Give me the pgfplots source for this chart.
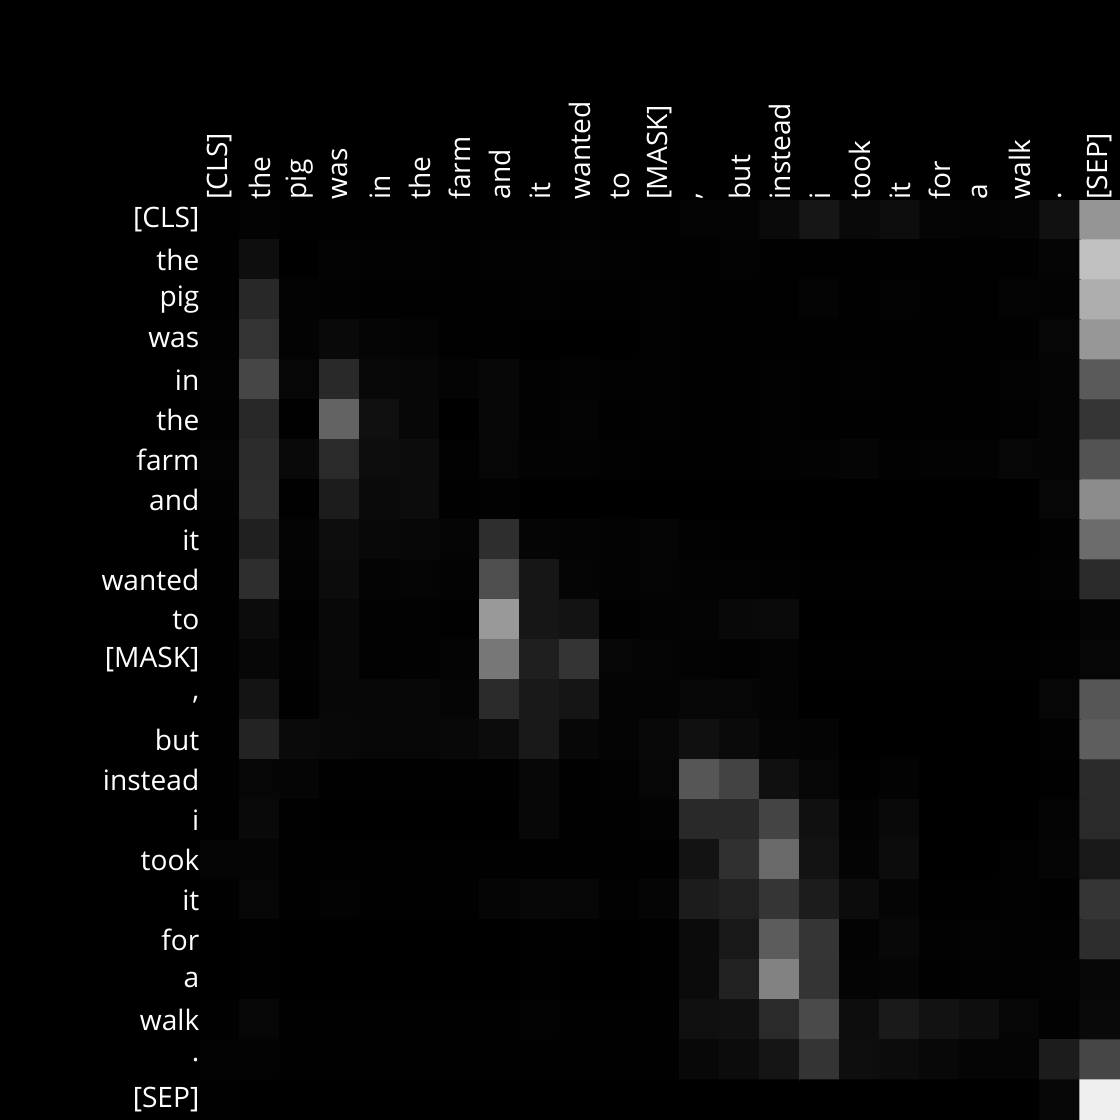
\documentclass[border=0pt]{standalone}
\usepackage{pgfplots}
\pgfplotsset{compat=1.18}
\usepackage{fontspec}
\setmainfont{Open Sans}

\begin{document}
\begin{tikzpicture}
\path[use as bounding box] (-2cm,0) rectangle (9.2cm,11.2cm);
\fill[black] (-2cm,0) rectangle (9.2cm,11.2cm);
\begin{axis}[
    at={(0,0)}, anchor=south west,
    scale only axis, width=9.2cm, height=9.2cm,
    xmin=-0.5, xmax=22.5, ymin=-0.5, ymax=22.5,
    y dir=reverse,
    axis line style={draw=none}, major tick length=0pt,
    colormap={bw}{gray(0cm)=(0); gray(1cm)=(1)},
    point meta min=0, point meta max=255,
    xtick={0,...,22}, ytick={0,...,22},
    xticklabel pos=top,
    xticklabels={{[CLS]},{the},{pig},{was},{in},{the},{farm},{and},{it},{wanted},{to},{[MASK]},{,},{but},{instead},{i},{took},{it},{for},{a},{walk},{.},{[SEP]}},
    yticklabels={{[CLS]},{the},{pig},{was},{in},{the},{farm},{and},{it},{wanted},{to},{[MASK]},{,},{but},{instead},{i},{took},{it},{for},{a},{walk},{.},{[SEP]}},
    xticklabel style={text=white, rotate=90, anchor=west, inner sep=0pt, font=\fontsize{8}{9.6}\selectfont},
    yticklabel style={text=white, anchor=east, inner sep=0pt, font=\fontsize{8}{9.6}\selectfont},
]
\addplot[matrix plot*, mesh/cols=23, point meta=explicit] coordinates {
(0,0)[1] (1,0)[3] (2,0)[1] (3,0)[1] (4,0)[1] (5,0)[1] (6,0)[1] (7,0)[1] (8,0)[1] (9,0)[2] (10,0)[1] (11,0)[1] (12,0)[4] (13,0)[4] (14,0)[10] (15,0)[22] (16,0)[9] (17,0)[13] (18,0)[5] (19,0)[4] (20,0)[5] (21,0)[17] (22,0)[148]
(0,1)[1] (1,1)[14] (2,1)[0] (3,1)[3] (4,1)[2] (5,1)[2] (6,1)[1] (7,1)[2] (8,1)[2] (9,1)[3] (10,1)[2] (11,1)[1] (12,1)[1] (13,1)[3] (14,1)[1] (15,1)[1] (16,1)[1] (17,1)[1] (18,1)[1] (19,1)[1] (20,1)[1] (21,1)[5] (22,1)[192]
(0,2)[1] (1,2)[40] (2,2)[3] (3,2)[2] (4,2)[1] (5,2)[1] (6,2)[1] (7,2)[1] (8,2)[2] (9,2)[1] (10,2)[1] (11,2)[2] (12,2)[1] (13,2)[1] (14,2)[1] (15,2)[4] (16,2)[1] (17,2)[3] (18,2)[1] (19,2)[1] (20,2)[4] (21,2)[3] (22,2)[173]
(0,3)[2] (1,3)[51] (2,3)[3] (3,3)[9] (4,3)[5] (5,3)[4] (6,3)[1] (7,3)[1] (8,3)[0] (9,3)[0] (10,3)[0] (11,3)[2] (12,3)[1] (13,3)[1] (14,3)[1] (15,3)[1] (16,3)[1] (17,3)[1] (18,3)[1] (19,3)[1] (20,3)[1] (21,3)[6] (22,3)[150]
(0,4)[3] (1,4)[70] (2,4)[6] (3,4)[41] (4,4)[8] (5,4)[7] (6,4)[4] (7,4)[7] (8,4)[2] (9,4)[3] (10,4)[2] (11,4)[2] (12,4)[1] (13,4)[1] (14,4)[2] (15,4)[1] (16,4)[2] (17,4)[1] (18,4)[1] (19,4)[1] (20,4)[3] (21,4)[5] (22,4)[89]
(0,5)[2] (1,5)[40] (2,5)[1] (3,5)[98] (4,5)[16] (5,5)[7] (6,5)[0] (7,5)[7] (8,5)[2] (9,5)[4] (10,5)[1] (11,5)[2] (12,5)[1] (13,5)[1] (14,5)[2] (15,5)[1] (16,5)[1] (17,5)[1] (18,5)[1] (19,5)[1] (20,5)[2] (21,5)[5] (22,5)[53]
(0,6)[4] (1,6)[44] (2,6)[9] (3,6)[42] (4,6)[13] (5,6)[12] (6,6)[2] (7,6)[6] (8,6)[3] (9,6)[3] (10,6)[2] (11,6)[1] (12,6)[1] (13,6)[1] (14,6)[2] (15,6)[3] (16,6)[5] (17,6)[2] (18,6)[3] (19,6)[3] (20,6)[6] (21,6)[5] (22,6)[82]
(0,7)[2] (1,7)[45] (2,7)[1] (3,7)[28] (4,7)[10] (5,7)[12] (6,7)[1] (7,7)[2] (8,7)[0] (9,7)[0] (10,7)[0] (11,7)[0] (12,7)[0] (13,7)[0] (14,7)[0] (15,7)[0] (16,7)[0] (17,7)[0] (18,7)[0] (19,7)[0] (20,7)[0] (21,7)[6] (22,7)[139]
(0,8)[1] (1,8)[32] (2,8)[4] (3,8)[13] (4,8)[8] (5,8)[7] (6,8)[5] (7,8)[46] (8,8)[5] (9,8)[4] (10,8)[3] (11,8)[5] (12,8)[2] (13,8)[1] (14,8)[1] (15,8)[0] (16,8)[0] (17,8)[0] (18,8)[0] (19,8)[0] (20,8)[0] (21,8)[2] (22,8)[107]
(0,9)[1] (1,9)[46] (2,9)[3] (3,9)[12] (4,9)[4] (5,9)[5] (6,9)[3] (7,9)[77] (8,9)[22] (9,9)[5] (10,9)[3] (11,9)[5] (12,9)[3] (13,9)[3] (14,9)[2] (15,9)[1] (16,9)[1] (17,9)[1] (18,9)[1] (19,9)[1] (20,9)[1] (21,9)[3] (22,9)[42]
(0,10)[1] (1,10)[12] (2,10)[1] (3,10)[8] (4,10)[2] (5,10)[2] (6,10)[1] (7,10)[152] (8,10)[22] (9,10)[19] (10,10)[1] (11,10)[3] (12,10)[4] (13,10)[8] (14,10)[10] (15,10)[0] (16,10)[0] (17,10)[0] (18,10)[0] (19,10)[0] (20,10)[0] (21,10)[1] (22,10)[5]
(0,11)[1] (1,11)[7] (2,11)[2] (3,11)[8] (4,11)[2] (5,11)[2] (6,11)[4] (7,11)[118] (8,11)[31] (9,11)[52] (10,11)[6] (11,11)[5] (12,11)[3] (13,11)[2] (14,11)[4] (15,11)[1] (16,11)[1] (17,11)[1] (18,11)[1] (19,11)[1] (20,11)[1] (21,11)[2] (22,11)[6]
(0,12)[1] (1,12)[20] (2,12)[1] (3,12)[7] (4,12)[6] (5,12)[7] (6,12)[5] (7,12)[43] (8,12)[25] (9,12)[21] (10,12)[4] (11,12)[4] (12,12)[6] (13,12)[6] (14,12)[4] (15,12)[0] (16,12)[0] (17,12)[0] (18,12)[0] (19,12)[0] (20,12)[0] (21,12)[6] (22,12)[85]
(0,13)[1] (1,13)[35] (2,13)[10] (3,13)[8] (4,13)[6] (5,13)[6] (6,13)[8] (7,13)[12] (8,13)[25] (9,13)[7] (10,13)[4] (11,13)[8] (12,13)[16] (13,13)[10] (14,13)[5] (15,13)[4] (16,13)[0] (17,13)[0] (18,13)[0] (19,13)[0] (20,13)[0] (21,13)[2] (22,13)[93]
(0,14)[1] (1,14)[6] (2,14)[5] (3,14)[1] (4,14)[1] (5,14)[1] (6,14)[1] (7,14)[1] (8,14)[7] (9,14)[1] (10,14)[2] (11,14)[6] (12,14)[85] (13,14)[67] (14,14)[16] (15,14)[6] (16,14)[1] (17,14)[3] (18,14)[0] (19,14)[0] (20,14)[0] (21,14)[1] (22,14)[43]
(0,15)[1] (1,15)[9] (2,15)[1] (3,15)[0] (4,15)[0] (5,15)[0] (6,15)[0] (7,15)[0] (8,15)[7] (9,15)[1] (10,15)[1] (11,15)[3] (12,15)[41] (13,15)[41] (14,15)[68] (15,15)[16] (16,15)[3] (17,15)[9] (18,15)[0] (19,15)[0] (20,15)[0] (21,15)[4] (22,15)[42]
(0,16)[5] (1,16)[5] (2,16)[1] (3,16)[1] (4,16)[1] (5,16)[1] (6,16)[1] (7,16)[1] (8,16)[1] (9,16)[1] (10,16)[1] (11,16)[1] (12,16)[19] (13,16)[48] (14,16)[104] (15,16)[19] (16,16)[4] (17,16)[12] (18,16)[0] (19,16)[0] (20,16)[2] (21,16)[5] (22,16)[24]
(0,17)[1] (1,17)[6] (2,17)[1] (3,17)[3] (4,17)[1] (5,17)[1] (6,17)[1] (7,17)[5] (8,17)[7] (9,17)[6] (10,17)[2] (11,17)[5] (12,17)[28] (13,17)[33] (14,17)[53] (15,17)[28] (16,17)[12] (17,17)[5] (18,17)[1] (19,17)[1] (20,17)[2] (21,17)[1] (22,17)[53]
(0,18)[0] (1,18)[1] (2,18)[0] (3,18)[0] (4,18)[0] (5,18)[0] (6,18)[0] (7,18)[0] (8,18)[1] (9,18)[1] (10,18)[0] (11,18)[1] (12,18)[11] (13,18)[24] (14,18)[91] (15,18)[53] (16,18)[3] (17,18)[8] (18,18)[2] (19,18)[3] (20,18)[2] (21,18)[2] (22,18)[45]
(0,19)[0] (1,19)[1] (2,19)[0] (3,19)[0] (4,19)[0] (5,19)[0] (6,19)[0] (7,19)[0] (8,19)[1] (9,19)[0] (10,19)[0] (11,19)[1] (12,19)[11] (13,19)[33] (14,19)[129] (15,19)[52] (16,19)[4] (17,19)[5] (18,19)[1] (19,19)[2] (20,19)[2] (21,19)[3] (22,19)[6]
(0,20)[1] (1,20)[6] (2,20)[1] (3,20)[1] (4,20)[1] (5,20)[1] (6,20)[1] (7,20)[1] (8,20)[3] (9,20)[1] (10,20)[1] (11,20)[1] (12,20)[15] (13,20)[17] (14,20)[42] (15,20)[73] (16,20)[13] (17,20)[26] (18,20)[18] (19,20)[14] (20,20)[6] (21,20)[2] (22,20)[9]
(0,21)[3] (1,21)[3] (2,21)[1] (3,21)[1] (4,21)[1] (5,21)[1] (6,21)[1] (7,21)[1] (8,21)[1] (9,21)[1] (10,21)[1] (11,21)[1] (12,21)[8] (13,21)[12] (14,21)[21] (15,21)[52] (16,21)[14] (17,21)[12] (18,21)[8] (19,21)[5] (20,21)[5] (21,21)[28] (22,21)[70]
(0,22)[1] (1,22)[0] (2,22)[0] (3,22)[0] (4,22)[0] (5,22)[0] (6,22)[0] (7,22)[0] (8,22)[0] (9,22)[0] (10,22)[0] (11,22)[0] (12,22)[0] (13,22)[0] (14,22)[0] (15,22)[0] (16,22)[0] (17,22)[0] (18,22)[0] (19,22)[0] (20,22)[0] (21,22)[7] (22,22)[237]
};
\end{axis}
\end{tikzpicture}
\end{document}
